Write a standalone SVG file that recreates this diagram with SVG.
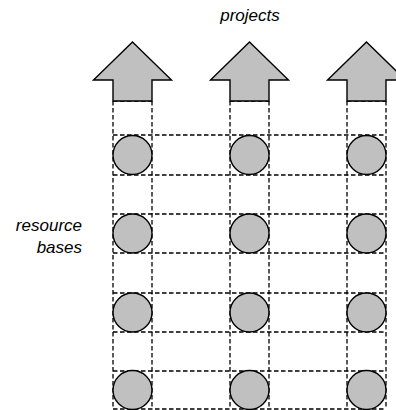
<svg xmlns="http://www.w3.org/2000/svg" width="396" height="410" viewBox="0 0 396 410">
<style>
.grid{stroke:#000;stroke-width:1.3;stroke-dasharray:4.5 2.5;fill:none}
.shape{fill:#c0c0c0;stroke:#000;stroke-width:1.4}
.lbl{font-family:"Liberation Sans",Arial,sans-serif;font-style:italic;font-size:17px;fill:#000}
</style>
<rect width="396" height="410" fill="#fff"/>
<g id="connectors" class="grid">
<path d="M113,101H152M230,101H269M347,101H386"/>
<path d="M113,135H386M113,175H386M113,214H386M113,253H386M113,293H386M113,332H386M113,371H386M113,409H386"/>
<path d="M113,101V409M152,101V409M230,101V409M269,101V409M347,101V409M386,101V409"/>
</g>
<g id="project-1"><polygon class="shape" points="132.5,42 171.5,80 152,80 152,101 113,101 113,80 93.5,80"/></g>
<g id="project-2"><polygon class="shape" points="249.5,42 288.5,80 269,80 269,101 230,101 230,80 210.5,80"/></g>
<g id="project-3"><polygon class="shape" points="366.5,42 405.5,80 386,80 386,101 347,101 347,80 327.5,80"/></g>
<g id="r1c1"><circle class="shape" cx="132.5" cy="155" r="19.5"/></g>
<g id="r1c2"><circle class="shape" cx="249.5" cy="155" r="19.5"/></g>
<g id="r1c3"><circle class="shape" cx="366.5" cy="155" r="19.5"/></g>
<g id="r2c1"><circle class="shape" cx="132.5" cy="233.5" r="19.5"/></g>
<g id="r2c2"><circle class="shape" cx="249.5" cy="233.5" r="19.5"/></g>
<g id="r2c3"><circle class="shape" cx="366.5" cy="233.5" r="19.5"/></g>
<g id="r3c1"><circle class="shape" cx="132.5" cy="312.5" r="19.5"/></g>
<g id="r3c2"><circle class="shape" cx="249.5" cy="312.5" r="19.5"/></g>
<g id="r3c3"><circle class="shape" cx="366.5" cy="312.5" r="19.5"/></g>
<g id="r4c1"><circle class="shape" cx="132.5" cy="390" r="19.5"/></g>
<g id="r4c2"><circle class="shape" cx="249.5" cy="390" r="19.5"/></g>
<g id="r4c3"><circle class="shape" cx="366.5" cy="390" r="19.5"/></g>
<g id="label-projects"><text class="lbl" x="250" y="21" text-anchor="middle">projects</text></g>
<g id="label-resource-bases">
<text class="lbl" x="82" y="231" text-anchor="end">resource</text>
<text class="lbl" x="82" y="253" text-anchor="end">bases</text>
</g>
</svg>
